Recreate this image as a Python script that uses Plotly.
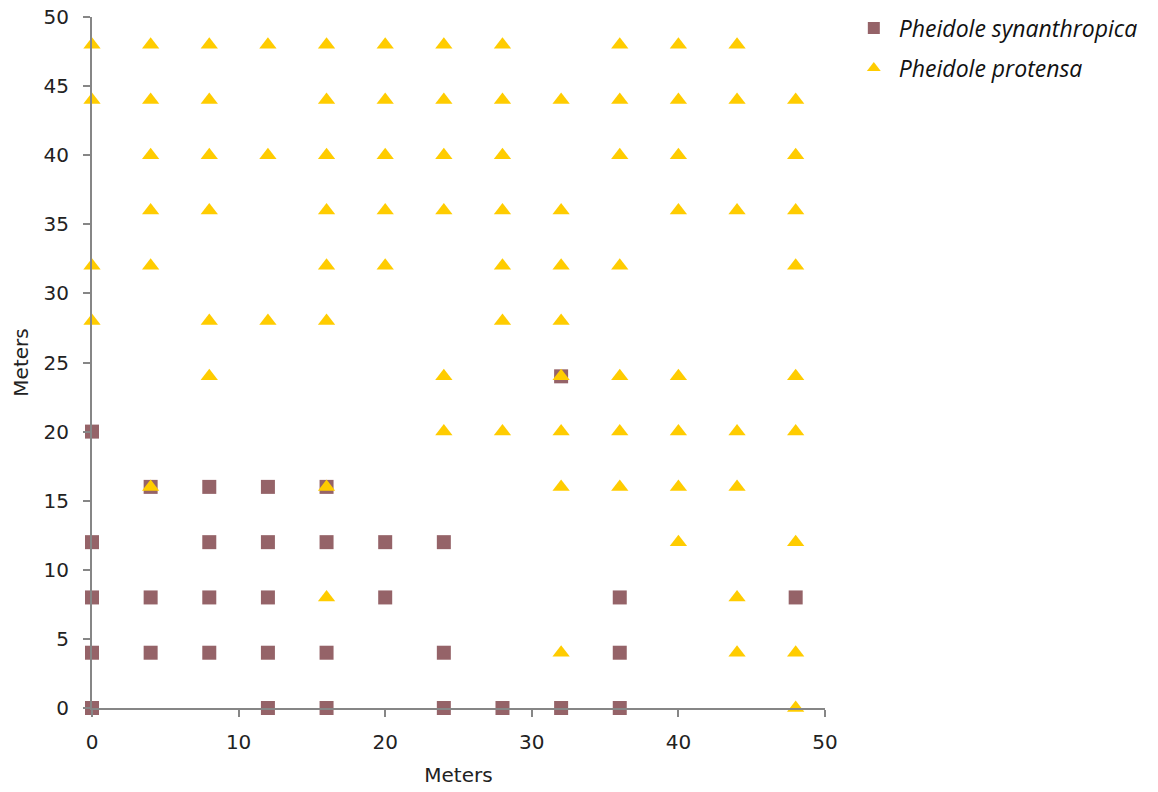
import plotly.graph_objects as go

# Pheidole synanthropica (squares)
syn_x = [0, 12, 16, 24, 28, 32, 36,
         0, 4, 8, 12, 16, 24, 36,
         0, 4, 8, 12, 20, 36, 48,
         0, 8, 12, 16, 20, 24,
         4, 8, 12, 16,
         0,
         32]
syn_y = [0, 0, 0, 0, 0, 0, 0,
         4, 4, 4, 4, 4, 4, 4,
         8, 8, 8, 8, 8, 8, 8,
         12, 12, 12, 12, 12, 12,
         16, 16, 16, 16,
         20,
         24]

# Pheidole protensa (triangles)
pro_x = [0, 4, 8, 12, 16, 20, 24, 28, 36, 40, 44,
         0, 4, 8, 16, 20, 24, 28, 32, 36, 40, 44, 48,
         4, 8, 12, 16, 20, 24, 28, 36, 40, 48,
         4, 8, 16, 20, 24, 28, 32, 40, 44, 48,
         0, 4, 16, 20, 28, 32, 36, 48,
         0, 8, 12, 16, 28, 32,
         8, 24, 32, 36, 40, 48,
         24, 28, 32, 36, 40, 44, 48,
         4, 16, 32, 36, 40, 44,
         40, 48,
         16, 44,
         32, 44, 48,
         48]
pro_y = [48] * 11 + [44] * 12 + [40] * 10 + [36] * 10 + [32] * 8 + [28] * 6 + \
        [24] * 6 + [20] * 7 + [16] * 6 + [12] * 2 + [8] * 2 + [4] * 3 + [0] * 1

x_ticks = [0, 10, 20, 30, 40, 50]
y_ticks = [0, 5, 10, 15, 20, 25, 30, 35, 40, 45, 50]

fig = go.Figure()
fig.add_trace(go.Scatter(
    x=syn_x, y=syn_y, mode="markers", name="<i>Pheidole synanthropica</i>",
    legendgroup="a",
    marker=dict(symbol="square", size=14, color="#956368"),
    cliponaxis=False,
))
fig.add_trace(go.Scatter(
    x=pro_x, y=pro_y, mode="markers", name="<i>Pheidole protensa</i>",
    legendgroup="b",
    marker=dict(symbol="triangle-up", size=15, color="#FFCC00"),
    cliponaxis=False,
))

font_ax = dict(family="DejaVu Sans", size=20, color="#222222")
axis_common = dict(
    showgrid=False, zeroline=False, showline=True,
    linecolor="#868686", linewidth=2,
    ticks="outside", tickcolor="#868686", tickwidth=1.5, ticklen=7,
    tickfont=font_ax,
    range=[0, 50],
)

fig.update_layout(
    width=1158, height=792,
    margin=dict(l=92, r=333, t=17, b=84, autoexpand=False),
    paper_bgcolor="white", plot_bgcolor="white",
    xaxis=dict(**axis_common, tickvals=x_ticks, ticklabelstandoff=8,
               title=dict(text="Meters", font=font_ax, standoff=15)),
    yaxis=dict(**axis_common, tickvals=y_ticks, ticklabelstandoff=10,
               title=dict(text="Meters", font=font_ax, standoff=10)),
    legend=dict(
        x=1.0325, y=1.015, xanchor="left", yanchor="top",
        font=dict(family="Open Sans", size=23, color="#111111"),
        itemsizing="constant", tracegroupgap=7, itemwidth=40,
        bgcolor="rgba(0,0,0,0)",
    ),
    showlegend=True,
)

fig.write_html("out.html")
